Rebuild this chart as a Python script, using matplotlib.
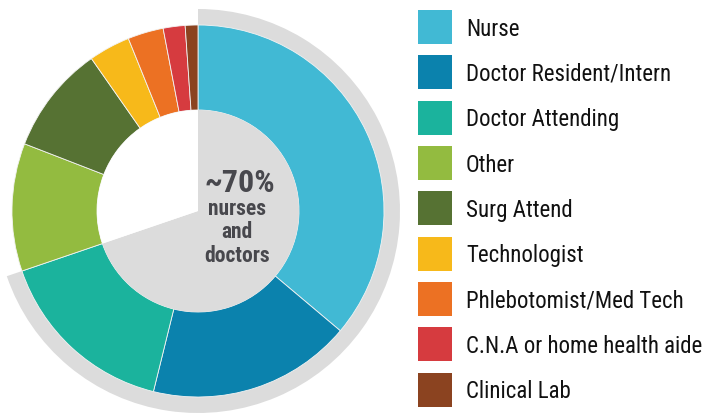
import matplotlib
matplotlib.use("Agg")
import matplotlib.pyplot as plt
from matplotlib.patches import Rectangle
from matplotlib import font_manager

categories = ["Nurse", "Doctor Resident/Intern", "Doctor Attending", "Other",
              "Surg Attend", "Technologist", "Phlebotomist/Med Tech",
              "C.N.A or home health aide", "Clinical Lab"]
values = [36.1, 17.7, 15.9, 11.1, 9.4, 3.6, 3.1, 1.9, 1.1]
colors = ["#41B9D4", "#0B82AD", "#1BB39D", "#93BB40", "#567233",
          "#F7B91A", "#EC7123", "#D63B3F", "#8B4320"]
highlight_n = 3  # nurses + doctors
center_lines = ["~70%", "nurses", "and", "doctors"]

avail = {f.name for f in font_manager.fontManager.ttflist}
font = "Roboto"
for cand in ["Roboto Condensed", "Liberation Sans Narrow", "DejaVu Sans Condensed",
             "Open Sans Condensed", "Noto Sans Condensed", "Roboto"]:
    if cand in avail:
        font = cand
        break
fam = [font, "DejaVu Sans"]

W, H = 709, 414
fig = plt.figure(figsize=(W / 100, H / 100), dpi=100)
ax = fig.add_axes([0, 0, 1, 1])

cx, cy = 198, H - 212
R_out, R_in = 186, 101
grey = "#DCDCDC"

hi = sum(values[:highlight_n])
rest = sum(values) - hi

ax.pie([hi, rest], colors=[grey, "none"], radius=202, center=(cx, cy),
       startangle=90, counterclock=False, frame=True,
       wedgeprops=dict(width=202 - R_out + 1, linewidth=0))
ax.pie(values, colors=colors, radius=R_out, center=(cx, cy),
       startangle=90, counterclock=False, frame=True,
       wedgeprops=dict(width=R_out - R_in, linewidth=0.6, edgecolor="#f3f3f3"))
ax.pie([hi, rest], colors=[grey, "white"], radius=R_in, center=(cx, cy),
       startangle=90, counterclock=False, frame=True,
       wedgeprops=dict(linewidth=0))

ax.set_xlim(0, W)
ax.set_ylim(0, H)
ax.set_aspect("equal")
ax.axis("off")

renderer = fig.canvas.get_renderer()


def fit_text(x, y, s, target_w, max_size, **kw):
    t = ax.text(x, y, s, fontsize=max_size, family=fam, **kw)
    w = t.get_window_extent(renderer).width
    if w > target_w:
        t.set_fontsize(max_size * target_w / w)
    return t


tc = "#48484d"
fit_text(240, H - 183, center_lines[0], 74, 23, ha="center", va="center",
         fontweight="bold", color=tc)
sizes = []
for i, t in enumerate(center_lines[1:]):
    tt = fit_text(237, H - (209 + i * 23.5), t, 66 if t == "doctors" else 60, 15.5,
                  ha="center", va="center", fontweight="bold", color=tc)
    sizes.append(tt.get_fontsize())
ms = min(sizes)
for tt in ax.texts[1:4]:
    tt.set_fontsize(ms)

# legend
leg_texts = []
for i, (lab, c) in enumerate(zip(categories, colors)):
    yc = H - (28 + i * 45.35)
    ax.add_patch(Rectangle((418, yc - 17), 34, 34, facecolor=c, edgecolor="none"))
    leg_texts.append(ax.text(466, yc - 1, lab, ha="left", va="center", fontsize=16.5,
                             color="#111111", family=fam))
# keep longest label within the reference width
wmax = max(t.get_window_extent(renderer).width for t in leg_texts)
scale = min(1.0, 240 / wmax)
for t in leg_texts:
    t.set_fontsize(16.5 * scale)

fig.savefig("out.png", dpi=100)
